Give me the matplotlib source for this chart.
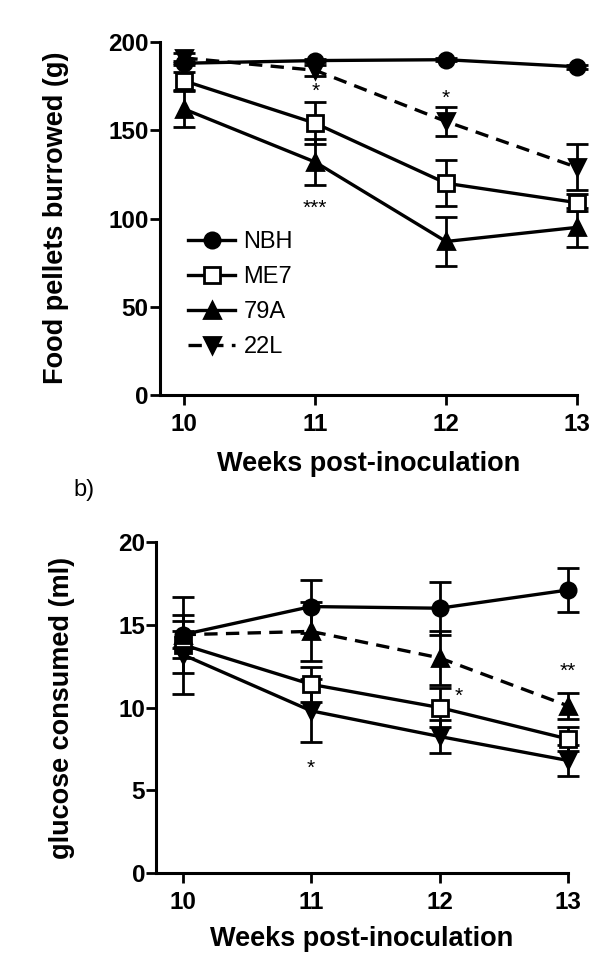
import numpy as np
import matplotlib.pyplot as plt
from matplotlib.lines import Line2D

plt.rcParams['font.family'] = ['Liberation Sans', 'DejaVu Sans']

weeks = [10, 11, 12, 13]

# panel a: food pellets burrowed (g)
groups = ['NBH', 'ME7', '79A', '22L']
burrow_nbh = [188, 189.5, 190, 186]
burrow_me7 = [178, 154, 120, 109]
burrow_79a = [162, 132, 87, 95]
burrow_22l = [191, 184, 155, 129]
burrow_nbh_err = [1, 1, 1, 1]
burrow_me7_err = [5, 12, 13, 5]
burrow_79a_err = [10, 13, 14, 11]
burrow_22l_err = [3, 3, 8, 13]
burrow_stars = [(11, 172, '*'), (11, 106, '***'), (12, 168, '*')]

# panel b: glucose consumed (ml)
glucose_nbh = [14.4, 16.1, 16.0, 17.1]
glucose_me7 = [13.8, 11.4, 10.0, 8.1]
glucose_dash = [14.4, 14.6, 13.0, 10.1]
glucose_down = [13.2, 9.8, 8.25, 6.8]
glucose_nbh_err = [2.3, 1.6, 1.6, 1.35]
glucose_me7_err = [0.8, 1.05, 1.2, 0.75]
glucose_dash_err = [0.8, 1.8, 1.65, 0.8]
glucose_down_err = [2.4, 1.9, 1.0, 0.95]
glucose_stars = [(11, 6.3, '*'), (12.15, 10.7, '*'), (13, 12.2, '**')]

DASH = (4, 2.5)


def draw_series(ax, y, err, marker, mfc, ls):
    kw = dict(dashes=DASH) if ls == '--' else {}
    ax.errorbar(weeks, y, yerr=err, color='black', marker=marker, mfc=mfc,
                mec='black', mew=2, ms=11, lw=2.4, ls=ls,
                capsize=8, capthick=2, elinewidth=2, clip_on=False, **kw)


def style_axes(ax, ymax, ystep):
    for s in ['top', 'right']:
        ax.spines[s].set_visible(False)
    for s in ['left', 'bottom']:
        ax.spines[s].set_linewidth(2.2)
    ax.set_ylim(0, ymax)
    ax.set_yticks(np.arange(0, ymax + 1, ystep))
    ax.set_xticks(weeks)
    ax.tick_params(width=2, length=7, labelsize=17.5)
    ax.tick_params(axis='y', pad=1)
    ax.tick_params(axis='x', pad=6)
    for t in ax.get_xticklabels() + ax.get_yticklabels():
        t.set_fontweight('bold')


def set_labels(ax, xl, yl, xlab_xy, ylab_xy):
    ax.set_xlabel(xl, fontsize=19.5, fontweight='bold')
    ax.xaxis.label.set_verticalalignment('center')
    ax.xaxis.set_label_coords(xlab_xy[0] / 596, 1 - xlab_xy[1] / 960, transform=fig.transFigure)
    ax.set_ylabel(yl, fontsize=19.5, fontweight='bold')
    ax.yaxis.set_label_coords(ylab_xy[0] / 596, 1 - ylab_xy[1] / 960, transform=fig.transFigure)


fig = plt.figure(figsize=(5.96, 9.6), dpi=100)

ax1 = fig.add_axes([0.268, 0.5885, 0.700, 0.3677])
ax1.set_xlim(9.812, 13.0)
draw_series(ax1, burrow_nbh, burrow_nbh_err, 'o', 'black', '-')
draw_series(ax1, burrow_me7, burrow_me7_err, 's', 'white', '-')
draw_series(ax1, burrow_79a, burrow_79a_err, '^', 'black', '-')
draw_series(ax1, burrow_22l, burrow_22l_err, 'v', 'black', '--')
style_axes(ax1, 200, 50)
for x, y, s in burrow_stars:
    ax1.text(x, y, s, ha='center', va='center', fontsize=15)
set_labels(ax1, 'Weeks post-inoculation', 'Food pellets burrowed (g)', (369, 464), (69, 218))

handles = [
    Line2D([], [], color='black', lw=2.4, marker='o', mfc='black', mec='black', mew=2, ms=11),
    Line2D([], [], color='black', lw=2.4, marker='s', mfc='white', mec='black', mew=2, ms=11),
    Line2D([], [], color='black', lw=2.4, marker='^', mfc='black', mec='black', mew=2, ms=11),
    Line2D([], [], color='black', lw=2.4, marker='v', mfc='black', mec='black', mew=2, ms=11,
           ls='--', dashes=DASH),
]
ax1.legend(handles, groups, loc='upper left', bbox_to_anchor=(188 / 596, 1 - 231 / 960),
           bbox_transform=fig.transFigure, frameon=False, fontsize=17,
           handlelength=2.0, handletextpad=0.35, labelspacing=0.55,
           borderpad=0, borderaxespad=0)

fig.text(73 / 596, 1 - 490 / 960, 'b)', fontsize=17, va='center', ha='left')

ax2 = fig.add_axes([0.262, 0.0906, 0.691, 0.3448])
ax2.set_xlim(9.794, 13.0)
draw_series(ax2, glucose_nbh, glucose_nbh_err, 'o', 'black', '-')
draw_series(ax2, glucose_me7, glucose_me7_err, 's', 'white', '-')
draw_series(ax2, glucose_dash, glucose_dash_err, '^', 'black', '--')
draw_series(ax2, glucose_down, glucose_down_err, 'v', 'black', '-')
style_axes(ax2, 20, 5)
for x, y, s in glucose_stars:
    ax2.text(x, y, s, ha='center', va='center', fontsize=15)
set_labels(ax2, 'Weeks post-inoculation', 'glucose consumed (ml)', (362, 939), (75, 708))

fig.savefig('out.png', dpi=100)
